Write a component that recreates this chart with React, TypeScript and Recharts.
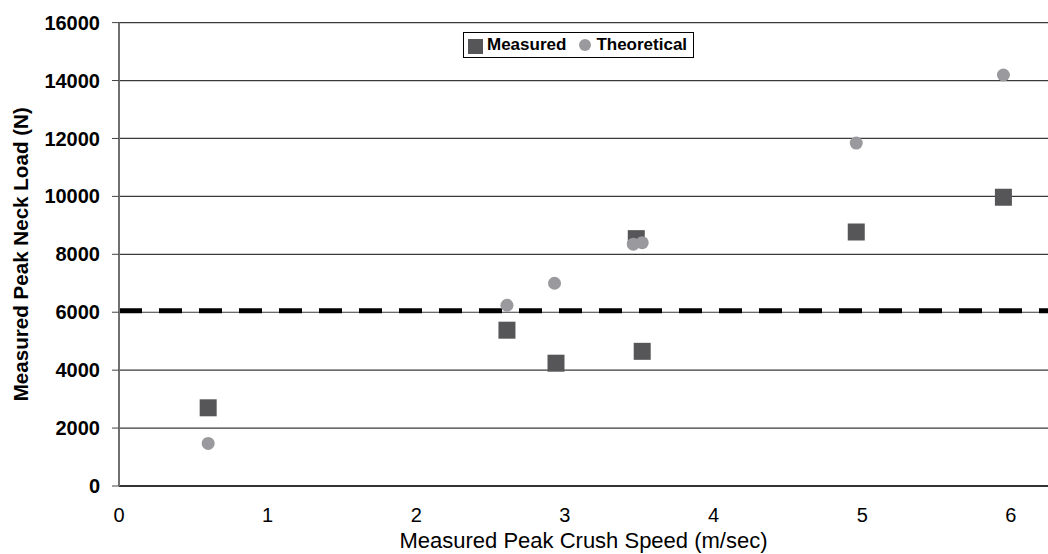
import React from "react"
import {
  ScatterChart,
  Scatter,
  XAxis,
  YAxis,
  CartesianGrid,
  ReferenceLine,
  Legend,
} from "recharts"

// crush speed (m/sec) and neck load (N)
const measuredSpeed = [0.6, 2.61, 2.94, 3.48, 3.52, 4.96, 5.95]
const measuredLoad = [2700, 5380, 4240, 8540, 4650, 8770, 9970]

const theoreticalSpeed = [0.6, 2.61, 2.93, 3.46, 3.52, 4.96, 5.95]
const theoreticalLoad = [1470, 6240, 7000, 8350, 8400, 11840, 14190]

const xTicks = [0, 1, 2, 3, 4, 5, 6]
const yTicks = [0, 2000, 4000, 6000, 8000, 10000, 12000, 14000, 16000]
const limitLoad = 6050

const measured = measuredSpeed.map((x, i) => ({ x, y: measuredLoad[i] }))
const theoretical = theoreticalSpeed.map((x, i) => ({ x, y: theoreticalLoad[i] }))

const FONT = "'Liberation Sans', Arial, Helvetica, sans-serif"
const SQUARE = "#565658"
const DOT = "#9a9a9e"

const SquareMark = (p: any) => (
  <rect x={p.cx - 8.5} y={p.cy - 8.5} width={17} height={17} fill={SQUARE} />
)
const DotMark = (p: any) => <circle cx={p.cx} cy={p.cy} r={6.5} fill={DOT} />

const YTitle = (props: any) => {
  const vb = props.viewBox || {}
  const cy = vb.y + vb.height / 2
  const cx = 20.5
  return (
    <text
      x={cx}
      y={cy}
      transform={`rotate(-90, ${cx}, ${cy})`}
      textAnchor="middle"
      dominantBaseline="central"
      fontSize={20.6}
      fontWeight="bold"
      fill="#000"
      fontFamily={FONT}
    >
      Measured Peak Neck Load (N)
    </text>
  )
}

const LegendBox = (props: any) => {
  const items = props.payload || []
  return (
    <div
      style={{
        display: "flex",
        alignItems: "center",
        border: "1px solid #000",
        background: "#fff",
        height: 24,
        padding: "0 6px 0 4px",
        fontFamily: FONT,
        fontSize: 17,
        fontWeight: "bold",
        color: "#000",
        whiteSpace: "nowrap",
      }}
    >
      {items.map((it: any, i: number) => (
        <span key={i} style={{ display: "flex", alignItems: "center", marginLeft: i ? 13 : 0 }}>
          {it.value === "Measured" ? (
            <span style={{ width: 15, height: 15, background: SQUARE, marginRight: 4, marginTop: 2 }} />
          ) : (
            <span style={{ width: 12, height: 12, borderRadius: 6, background: DOT, marginRight: 5 }} />
          )}
          {it.value}
        </span>
      ))}
    </div>
  )
}

export default function App() {
  return (
    <div style={{ position: "fixed", left: 0, top: 0, width: 1048, height: 554, background: "#fff" }}>
      <ScatterChart width={1048} height={554} margin={{ top: 22.6, right: 0, bottom: 0, left: 0 }}>
        <CartesianGrid vertical={false} stroke="#3a3a3a" strokeWidth={1.2} />
        <XAxis
          type="number"
          dataKey="x"
          domain={[0, 6.25]}
          ticks={xTicks}
          height={68}
          tickLine={false}
          tickSize={6}
          tickMargin={16}
          axisLine={{ stroke: "#111", strokeWidth: 1.5 }}
          tick={{ fill: "#000", fontSize: 20, fontFamily: FONT }}
          label={{
            value: "Measured Peak Crush Speed (m/sec)",
            position: "insideBottom",
            offset: 6,
            fill: "#000",
            fontSize: 22,
            fontFamily: FONT,
          }}
        />
        <YAxis
          type="number"
          dataKey="y"
          domain={[0, 16000]}
          ticks={yTicks}
          width={119}
          tickSize={7}
          tickMargin={12}
          tickLine={{ stroke: "#444" }}
          axisLine={{ stroke: "#707070", strokeWidth: 2 }}
          tick={{ fill: "#000", fontSize: 20, fontWeight: "bold", fontFamily: FONT }}
          label={<YTitle />}
        />
        <ReferenceLine y={limitLoad} stroke="#000" strokeWidth={5} strokeDasharray="23 17" />
        <Legend
          layout="horizontal"
          verticalAlign="middle"
          align="center"
          content={<LegendBox />}
          wrapperStyle={{ position: "absolute", left: 463, top: 32, width: "auto", height: "auto" }}
        />
        <Scatter name="Measured" data={measured} fill={SQUARE} shape={SquareMark} isAnimationActive={false} />
        <Scatter name="Theoretical" data={theoretical} fill={DOT} shape={DotMark} isAnimationActive={false} />
      </ScatterChart>
    </div>
  )
}
